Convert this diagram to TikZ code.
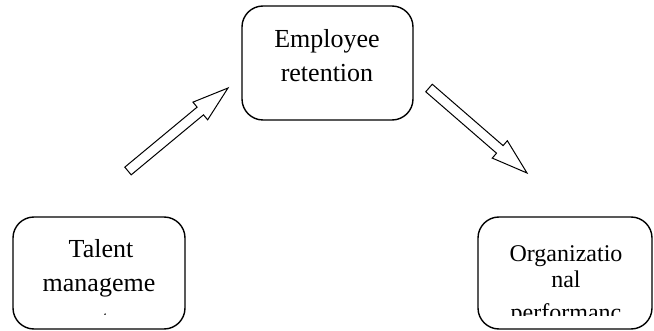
\documentclass[tikz,border=0pt]{standalone}
\usepackage{fontspec}
\setmainfont{Liberation Serif}
\usetikzlibrary{calc}
\tikzset{
  box/.style={draw, line width=1.4pt, rounded corners=21pt},
  bigtxt/.style={anchor=base, inner sep=0pt, font=\fontsize{26}{30}\selectfont},
  smalltxt/.style={anchor=base, inner sep=0pt, font=\fontsize{24}{28}\selectfont},
  blockarrow/.style={draw, line width=1pt, fill=white, line join=miter},
}
\begin{document}
\begin{tikzpicture}[x=1pt,y=-1pt]
\useasboundingbox (0,0) rectangle (654,331);
% boxes
\draw[box] (242,6) rectangle (413,120);
\draw[box] (13,217) rectangle (185,329);
\draw[box] (478,217) rectangle (652,329);
% top text
\node[bigtxt] (e1) at (327,48) {Employee};
\node[bigtxt] (e2) at (327,82) {retention};
% left text
\begin{scope}
\clip (14,218) rectangle (184,315);
\node[bigtxt] (t1) at (101,258) {Talent};
\node[bigtxt] (t2) at (99,292) {manageme};
\node[bigtxt] (t3) at (99,328.5) {nt};
\end{scope}
% right text
\begin{scope}
\clip (479,218) rectangle (651,316);
\node[smalltxt] (o1) at (566,262) {Organizatio};
\node[smalltxt] (o2) at (566,288) {nal};
\node[smalltxt] (o3) at (566,321) {performanc};
\end{scope}
% arrows
\coordinate (A1) at (128,171);
\coordinate (B1) at (228,88);
\coordinate (H1) at ($(B1)!36pt!(A1)$);
\draw[blockarrow]
  ($(A1)!5pt!90:(B1)$) -- ($(H1)!5pt!-90:(A1)$) -- ($(H1)!11.5pt!-90:(A1)$)
  -- (B1) -- ($(H1)!11.5pt!90:(A1)$) -- ($(H1)!5pt!90:(A1)$)
  -- ($(A1)!5pt!-90:(B1)$) -- cycle;
\coordinate (A2) at (429,88);
\coordinate (B2) at (527,173);
\coordinate (H2) at ($(B2)!36pt!(A2)$);
\draw[blockarrow]
  ($(A2)!5pt!90:(B2)$) -- ($(H2)!5pt!-90:(A2)$) -- ($(H2)!11.5pt!-90:(A2)$)
  -- (B2) -- ($(H2)!11.5pt!90:(A2)$) -- ($(H2)!5pt!90:(A2)$)
  -- ($(A2)!5pt!-90:(B2)$) -- cycle;
\end{tikzpicture}
\end{document}
